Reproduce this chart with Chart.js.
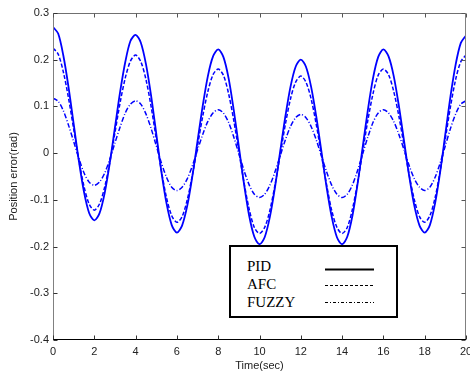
<!DOCTYPE html>
<html>
<head>
<meta charset="utf-8">
<script src="https://cdn.jsdelivr.net/npm/chart.js@4/dist/chart.umd.min.js"></script>
<style>
  html, body { margin: 0; padding: 0; background: #fff; }
  #wrap { position: relative; width: 470px; height: 375px; overflow: hidden; }
  #c { position: absolute; left: 0; top: 0; }
  #legend {
    position: absolute; left: 229px; top: 245px; width: 165px; height: 69px;
    border: 2px solid #000; background: #fff;
    font-family: "Liberation Serif", "Times New Roman", serif; font-size: 15px; color: #000;
  }
  #legend .row { position: absolute; left: 16px; }
  #legend svg { position: absolute; left: 94px; }
</style>
</head>
<body>
<div id="wrap">
  <canvas id="c" width="470" height="375"></canvas>
  <div id="legend">
    <div class="row" style="top:11px">PID</div>
    <div class="row" style="top:29px">AFC</div>
    <div class="row" style="top:47px">FUZZY</div>
    <svg width="52" height="70" style="top:0">
      <line x1="0" y1="22.5" x2="49" y2="22.5" stroke="#000" stroke-width="2"/>
      <line x1="0" y1="38.5" x2="49" y2="38.5" stroke="#000" stroke-width="1" stroke-dasharray="3,2"/>
      <line x1="0" y1="55.5" x2="49" y2="55.5" stroke="#000" stroke-width="1" stroke-dasharray="3,2,1,2"/>
    </svg>
  </div>
</div>
<script>
const times = [0,0.25,0.5,0.75,1,1.25,1.5,1.75,2,2.25,2.5,2.75,3,3.25,3.5,3.75,4,4.25,4.5,4.75,5,5.25,5.5,5.75,6,6.25,6.5,6.75,7,7.25,7.5,7.75,8,8.25,8.5,8.75,9,9.25,9.5,9.75,10,10.25,10.5,10.75,11,11.25,11.5,11.75,12,12.25,12.5,12.75,13,13.25,13.5,13.75,14,14.25,14.5,14.75,15,15.25,15.5,15.75,16,16.25,16.5,16.75,17,17.25,17.5,17.75,18,18.25,18.5,18.75,19,19.25,19.5,19.75,20];

const pid = [0.270,0.256,0.209,0.142,0.063,-0.016,-0.083,-0.128,-0.144,
  -0.129,-0.086,-0.021,0.055,0.131,0.195,0.240,0.253,
  0.237,0.191,0.123,0.042,-0.040,-0.108,-0.154,-0.170,
  -0.155,-0.113,-0.049,0.026,0.101,0.165,0.207,0.222,
  0.206,0.161,0.093,0.014,-0.066,-0.134,-0.179,-0.195,
  -0.180,-0.137,-0.073,0.003,0.078,0.142,0.185,0.200,
  0.185,0.142,0.078,0.003,-0.073,-0.137,-0.180,-0.195,
  -0.179,-0.134,-0.066,0.014,0.093,0.161,0.206,0.222,
  0.207,0.165,0.101,0.026,-0.049,-0.113,-0.155,-0.170,
  -0.154,-0.108,-0.040,0.041,0.122,0.190,0.236,0.252];

const afc = [0.225,0.212,0.174,0.118,0.052,-0.015,-0.071,-0.109,-0.122,
  -0.109,-0.073,-0.020,0.044,0.108,0.161,0.197,0.210,
  0.196,0.158,0.100,0.031,-0.038,-0.096,-0.134,-0.148,
  -0.136,-0.100,-0.047,0.016,0.079,0.132,0.168,0.180,
  0.167,0.128,0.071,0.004,-0.063,-0.120,-0.159,-0.172,
  -0.159,-0.123,-0.068,-0.004,0.061,0.116,0.152,0.165,
  0.152,0.116,0.061,-0.004,-0.068,-0.123,-0.159,-0.172,
  -0.159,-0.120,-0.063,0.004,0.071,0.128,0.167,0.180,
  0.168,0.132,0.079,0.016,-0.047,-0.100,-0.136,-0.148,
  -0.134,-0.096,-0.038,0.031,0.100,0.158,0.196,0.210];

const fuzzy = [0.118,0.111,0.091,0.060,0.025,-0.011,-0.042,-0.062,-0.069,
  -0.062,-0.043,-0.013,0.022,0.056,0.086,0.105,0.112,
  0.105,0.084,0.053,0.016,-0.021,-0.052,-0.073,-0.080,
  -0.073,-0.055,-0.027,0.007,0.040,0.068,0.086,0.093,
  0.086,0.066,0.035,-0.001,-0.037,-0.068,-0.088,-0.095,
  -0.088,-0.069,-0.040,-0.006,0.028,0.057,0.076,0.083,
  0.076,0.057,0.028,-0.006,-0.040,-0.069,-0.088,-0.095,
  -0.088,-0.068,-0.037,-0.001,0.035,0.066,0.086,0.093,
  0.086,0.068,0.040,0.007,-0.027,-0.055,-0.073,-0.080,
  -0.073,-0.052,-0.021,0.016,0.053,0.084,0.105,0.112];

const seriesNames = ['PID', 'AFC', 'FUZZY'];
const xTickLabels = ['0','2','4','6','8','10','12','14','16','18','20'];
const yTickLabels = ['0.3','0.2','0.1','0','-0.1','-0.2','-0.3','-0.4'];

const pts = arr => arr.map((v, i) => ({x: times[i], y: v}));

const framePlugin = {
  id: 'frame',
  afterDraw(chart) {
    const {ctx, chartArea: a, scales: {x, y}} = chart;
    const L = Math.round(a.left) + 0.5, R = Math.round(a.right) - 0.5;
    const T = Math.round(a.top) + 0.5, B = Math.round(a.bottom) - 0.5;
    ctx.save();
    ctx.lineWidth = 1;
    const ln = (x1, y1, x2, y2, c) => { ctx.strokeStyle = c; ctx.beginPath(); ctx.moveTo(x1, y1); ctx.lineTo(x2, y2); ctx.stroke(); };
    ln(L, T, R, T, '#707070');
    ln(R, T, R, B, '#808080');
    ln(L, T, L, B, '#808080');
    ln(L - 0.5, B, R + 0.5, B, '#000');
    x.ticks.forEach(t => {
      const px = Math.round(x.getPixelForValue(t.value)) + 0.5;
      ln(px, B, px, B - 4, '#333');
      ln(px, T, px, T + 4, '#555');
    });
    y.ticks.forEach(t => {
      const py = Math.round(y.getPixelForValue(t.value)) + 0.5;
      ln(L, py, L + 4, py, '#333');
      ln(R, py, R - 4, py, '#555');
    });
    ctx.restore();
  }
};

const tickFont = {family: '"Liberation Sans", Arial, sans-serif', size: 11};

new Chart(document.getElementById('c'), {
  type: 'line',
  data: {
    datasets: [
      {label: seriesNames[0], data: pts(pid), borderColor: '#0000ff', borderWidth: 1.8, borderDash: []},
      {label: seriesNames[1], data: pts(afc), borderColor: '#0000ff', borderWidth: 1.5, borderDash: [4, 2]},
      {label: seriesNames[2], data: pts(fuzzy), borderColor: '#0000ff', borderWidth: 1.5, borderDash: [5, 2, 1, 2]}
    ]
  },
  options: {
    responsive: false,
    animation: false,
    devicePixelRatio: 1,
    layout: {padding: {top: 13, right: 4, left: 0, bottom: 0}},
    elements: {point: {radius: 0}, line: {tension: 0.3, fill: false}},
    plugins: {legend: {display: false}, tooltip: {enabled: false}},
    scales: {
      x: {
        type: 'linear', min: 0, max: 20,
        grid: {display: false, drawTicks: false},
        border: {display: false},
        ticks: {stepSize: 2, autoSkip: false, maxRotation: 0, padding: 5, color: '#222', font: tickFont,
          callback: (v, i) => xTickLabels[i]},
        title: {display: true, text: 'Time(sec)', color: '#222', font: tickFont, padding: {top: 0, bottom: 2}},
        afterFit(s) { s.height = 35; s.paddingLeft = 0; s.paddingRight = 0; }
      },
      y: {
        min: -0.4, max: 0.3,
        grid: {display: false, drawTicks: false},
        border: {display: false},
        ticks: {stepSize: 0.1, padding: 4, color: '#222', font: tickFont,
          callback: (v) => yTickLabels[Math.round((0.3 - v) * 10)]},
        title: {display: true, text: 'Position error(rad)', color: '#222', font: tickFont, padding: {top: 7, bottom: 0}},
        afterFit(s) { s.width = 53; s.paddingTop = 0; s.paddingBottom = 0; }
      }
    }
  },
  plugins: [framePlugin]
});
</script>
</body>
</html>
